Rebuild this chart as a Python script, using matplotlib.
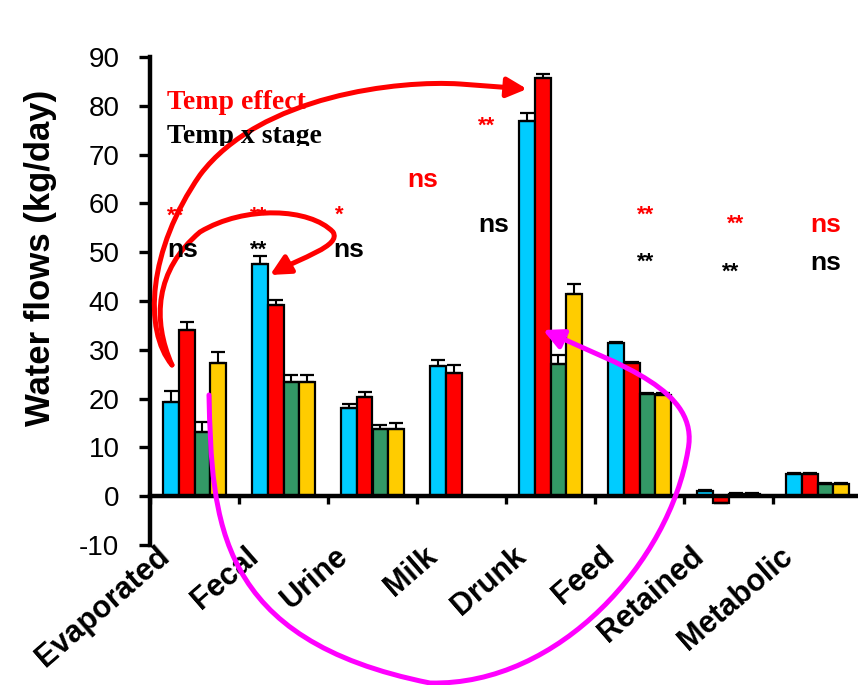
import numpy as np
import matplotlib
matplotlib.use("Agg")
import matplotlib.pyplot as plt
from matplotlib.path import Path
from matplotlib.patches import FancyArrowPatch, ArrowStyle
import matplotlib.transforms as mtransforms

# ---- data -------------------------------------------------------------
categories = ["Evaporated", "Fecal", "Urine", "Milk", "Drunk", "Feed",
              "Retained", "Metabolic"]
cyan_vals = [19.4, 47.6, 18.0, 26.7, 76.9, 31.4, 1.0, 4.5]
red_vals = [34.1, 39.2, 20.3, 25.3, 85.7, 27.3, -1.4, 4.5]
green_vals = [13.2, 23.5, 13.8, np.nan, 27.1, 20.9, 0.5, 2.6]
yellow_vals = [27.3, 23.5, 13.7, np.nan, 41.5, 20.8, 0.5, 2.6]
cyan_err = [2.2, 1.6, 0.9, 1.2, 1.7, 0.3, 0.2, 0.2]
red_err = [1.5, 1.1, 1.1, 1.5, 0.9, 0.3, 0.2, 0.2]
green_err = [2.1, 1.4, 0.8, np.nan, 1.9, 0.3, 0.1, 0.1]
yellow_err = [2.3, 1.4, 1.2, np.nan, 1.9, 0.3, 0.1, 0.1]
y_ticks = list(range(-10, 100, 10))

temp_effect_labels = ["**", "**", "*", "ns", "**", "**", "**", "ns"]
interaction_labels = ["ns", "**", "ns", "ns", "**", "**", "ns"]

# ---- figure -------------------------------------------------------------
W, H = 858, 685
plt.rcParams["font.family"] = ["Liberation Sans", "DejaVu Sans"]
plt.rcParams["axes.unicode_minus"] = False
fig = plt.figure(figsize=(W / 100, H / 100), dpi=100)


def fx(x):
    return x / W


def fy(y):
    return 1 - y / H


ax = fig.add_axes([fx(150), fy(545), 712 / W, (545 - 57) / H])

colors = ["#00CCFF", "#FF0000", "#339966", "#FFCC00"]
series = [cyan_vals, red_vals, green_vals, yellow_vals]
errors = [cyan_err, red_err, green_err, yellow_err]
x = np.arange(len(categories))
bw = 0.177
offsets = (np.arange(4) - 1.5) * bw

for vals, errs, col, off in zip(series, errors, colors, offsets):
    vals = np.array(vals, dtype=float)
    errs = np.array(errs, dtype=float)
    ax.bar(x + off, vals, width=bw, color=col, edgecolor="black",
           linewidth=1.6, zorder=2)
    up = np.where(vals >= 0, errs, 0.0)
    ax.errorbar(x + off, vals, yerr=[np.zeros_like(up), up], fmt="none",
                ecolor="black", elinewidth=1.5, capsize=5, capthick=1.6,
                zorder=3)

ax.set_xlim(-0.5, 7.5)
ax.set_ylim(-10, 90)
ax.set_yticks(y_ticks)
ax.set_xticks(np.arange(-0.5, 8.0, 1.0))
ax.set_xticklabels([])
for s in ("top", "right"):
    ax.spines[s].set_visible(False)
ax.spines["bottom"].set_position(("data", 0))
ax.spines["left"].set_linewidth(3.2)
ax.spines["bottom"].set_linewidth(3.2)
ax.tick_params(axis="y", direction="out", length=8, width=2.4,
               labelsize=20, pad=14)
ax.tick_params(axis="x", direction="out", length=6, width=2.4)
ax.patch.set_alpha(0)

# category names, slanted below the axis
for i, name in enumerate(categories):
    ax.text(i - 0.43, -9.2, name, rotation=41, rotation_mode="anchor",
            ha="right", va="top", fontsize=22, fontweight="bold",
            clip_on=False)

fig.text(fx(41), fy(258), "Water flows (kg/day)", rotation=90,
         ha="center", va="center", fontsize=25, fontweight="bold")

# ---- legend-like captions --------------------------------------------
fig.text(fx(167), fy(109), "Temp effect", color="#FF0000",
         family="Liberation Serif", fontweight="bold", fontsize=20)
t2 = fig.text(fx(167), fy(143), "Temp x stage", color="black",
              family="Liberation Serif", fontweight="bold", fontsize=20)
clip = mtransforms.TransformedBbox(
    mtransforms.Bbox.from_extents(0, fy(146), 1, 1), fig.transFigure)
t2.set_clip_box(clip)
t2.set_clip_on(True)

# ---- significance marks ----------------------------------------------
red_pos = [(167, 222), (250, 222), (335, 221), (407, 187), (478, 132),
           (637, 221), (727, 230), (810, 232)]
red_size = [16, 16, 16, 19, 16, 16, 16, 19]
for lab, (px, py), sz in zip(temp_effect_labels, red_pos, red_size):
    fig.text(fx(px), fy(py), lab, color="#FF0000", fontweight="bold",
             fontsize=sz, va="baseline", ha="left")

blk_pos = [(167, 257), (250, 256), (333, 257), (478, 232), (637, 268),
           (722, 278), (810, 270)]
for lab, (px, py) in zip(interaction_labels, blk_pos):
    sz = 19 if lab == "ns" else 16
    fig.text(fx(px), fy(py), lab, color="black", fontweight="bold",
             fontsize=sz, va="baseline", ha="left")

# ---- hand-drawn arrows -----------------------------------------------


def curve(points, codes, color):
    verts = [(fx(a), fy(b)) for a, b in points]
    style = ArrowStyle("-|>", head_length=1.0, head_width=0.5)
    p = FancyArrowPatch(path=Path(verts, codes), arrowstyle=style,
                        mutation_scale=12, color=color, linewidth=3.6,
                        transform=fig.transFigure, shrinkA=0, shrinkB=0,
                        joinstyle="round", capstyle="round")
    fig.add_artist(p)


C4 = Path.CURVE4
L2 = Path.LINETO
# long red arrow towards the drunk bar
curve([(172, 365), (143, 330), (148, 250), (200, 175),
       (260, 95), (400, 80), (460, 84), (527, 89)],
      [Path.MOVETO, C4, C4, C4, C4, C4, C4, L2], "#FF0000")
# short red arrow looping back to the fecal bar
curve([(172, 365), (152, 320), (155, 270), (200, 232),
       (245, 205), (310, 208), (333, 232),
       (342, 246), (300, 258), (270, 275)],
      [Path.MOVETO, C4, C4, C4, C4, C4, C4, C4, C4, C4], "#FF0000")
# magenta loop
curve([(209, 395), (212, 520), (215, 640), (430, 683),
       (560, 686), (670, 560), (688, 450),
       (700, 390), (620, 365), (543, 330)],
      [Path.MOVETO, C4, C4, C4, C4, C4, C4, C4, C4, C4], "#FF00FF")

fig.savefig("out.png", dpi=100)
